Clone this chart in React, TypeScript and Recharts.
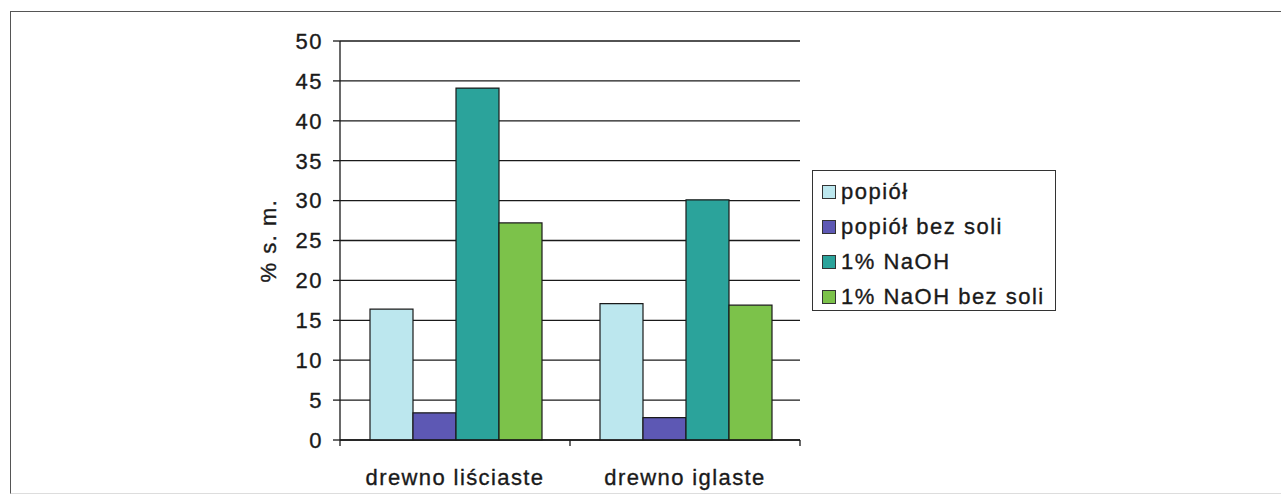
import React from 'react';
import { BarChart, Bar, XAxis, YAxis, CartesianGrid, Legend } from 'recharts';

const categories = ['drewno liściaste', 'drewno iglaste'];
const popiol = [16.4, 17.1];
const popiolBezSoli = [3.4, 2.8];
const naoh = [44.1, 30.1];
const naohBezSoli = [27.2, 16.9];
const yTicks = [0, 5, 10, 15, 20, 25, 30, 35, 40, 45, 50];

const SERIES = [
    { key: 'popiol', name: 'popiół', color: '#bce7ee' },
    { key: 'popiolBezSoli', name: 'popiół bez soli', color: '#5d58b4' },
    { key: 'naoh', name: '1% NaOH', color: '#2ba39b' },
    { key: 'naohBezSoli', name: '1% NaOH bez soli', color: '#7cc24a' },
];

const FONT = '"Liberation Sans", Arial, sans-serif';
const INK = '#1a1a1a';
// slightly heavier strokes for the text, like a printed Excel chart
const TEXT_STYLE = { fontSize: 22, fontFamily: FONT, letterSpacing: 1.5, stroke: INK, strokeWidth: 0.35 };

const data = categories.map((name, i) => ({
    name,
    popiol: popiol[i],
    popiolBezSoli: popiolBezSoli[i],
    naoh: naoh[i],
    naohBezSoli: naohBezSoli[i],
}));

// category label plus the Excel-style tick marks between categories
const CategoryTick = ({ x, y, payload, index }: any) => {
    const half = payload.offset ?? 115;
    return (
        <g>
            {index === 0 && <line x1={x - half} x2={x - half} y1={y} y2={y + 6} stroke={INK} strokeWidth={1.3} />}
            <line x1={x + half} x2={x + half} y1={y} y2={y + 6} stroke={INK} strokeWidth={1.3} />
            <text x={x} y={y + 45} textAnchor="middle" fill={INK} style={{ ...TEXT_STYLE, letterSpacing: 1.4 }}>
                {payload.value}
            </text>
        </g>
    );
};

const LegendBox = () => (
    <div style={{
        boxSizing: 'border-box', border: '1.5px solid #333', background: '#fff', padding: '3px 0 0 9px',
        width: 244, height: 141, fontFamily: FONT, fontSize: 22, color: INK, letterSpacing: 1.5,
        WebkitTextStroke: '0.35px #1a1a1a',
    }}>
        {SERIES.map(s => (
            <div key={s.key} style={{ display: 'flex', alignItems: 'center', height: 35 }}>
                <span style={{
                    display: 'inline-block', width: 12, height: 12, background: s.color,
                    border: '1.5px solid #333', marginRight: 5,
                }} />
                <span>{s.name}</span>
            </div>
        ))}
    </div>
);

export default function App() {
    return (
        <div style={{ position: 'fixed', left: 0, top: 0, width: 1285, height: 494, background: '#fff', overflow: 'hidden' }}>
            <div style={{
                position: 'absolute', left: 10, top: 11, width: 1270, height: 481,
                borderLeft: '1.5px solid #555', borderTop: '1.5px solid #555', borderBottom: '1px solid #ddd',
            }} />
            <div style={{ position: 'absolute', left: 0, top: 0 }}>
                <BarChart width={1285} height={494} data={data}
                    margin={{ top: 41, right: 485, bottom: 0, left: 0 }}
                    barCategoryGap={30} barGap={0}>
                    <CartesianGrid horizontal vertical={false} stroke={INK} strokeWidth={1.3} strokeOpacity={1} />
                    <XAxis dataKey="name" height={54} axisLine={{ stroke: INK, strokeWidth: 1.3 }} tickLine={false}
                        tickSize={0} tickMargin={0} tick={<CategoryTick />} interval={0} />
                    <YAxis width={340} domain={[0, 50]} ticks={yTicks} interval={0}
                        axisLine={{ stroke: INK, strokeWidth: 1.3 }} tickLine={{ stroke: INK, strokeWidth: 1.3 }}
                        tickSize={7} tickMargin={10}
                        tick={{ fill: INK, ...TEXT_STYLE }}
                        label={{
                            value: '% s. m.', angle: -90, position: 'insideLeft', offset: 268,
                            style: { textAnchor: 'middle', fill: INK, ...TEXT_STYLE },
                        }} />
                    <YAxis yAxisId="frame" orientation="right" width={0} domain={[0, 50]}
                        axisLine={{ stroke: INK, strokeWidth: 1.3 }} tick={false} tickLine={false} />
                    {SERIES.map(s => (
                        <Bar key={s.key} dataKey={s.key} name={s.name} fill={s.color}
                            stroke="#1a1a1a" strokeWidth={1.2} isAnimationActive={false} />
                    ))}
                    <Legend layout="vertical" align="center" verticalAlign="middle" content={<LegendBox />}
                        wrapperStyle={{ left: 812, top: 170, width: 'auto' }} />
                </BarChart>
            </div>
        </div>
    );
}
